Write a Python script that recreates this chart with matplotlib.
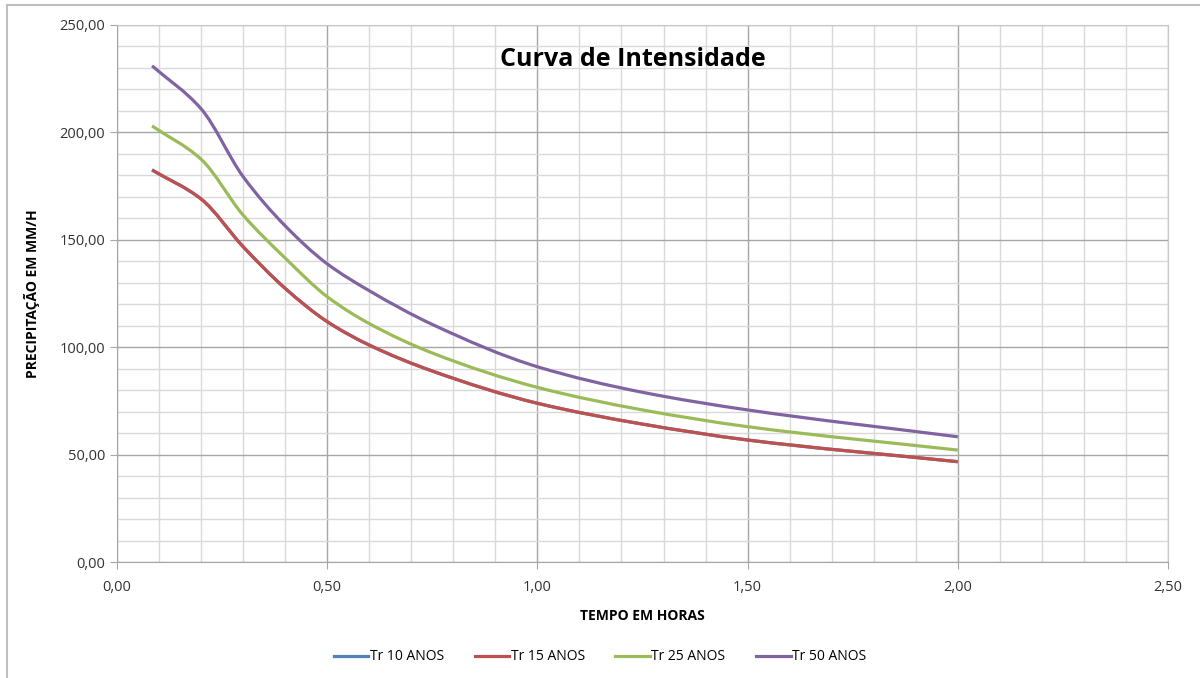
import numpy as np
import matplotlib.pyplot as plt
from matplotlib.ticker import MultipleLocator, FuncFormatter
from matplotlib.lines import Line2D
from matplotlib.path import Path
from matplotlib.patches import PathPatch

plt.rcParams['font.family'] = ['Open Sans', 'DejaVu Sans']

# tempo em horas
tempo = [5/60, 0.20, 0.30, 0.40, 0.50, 0.60, 0.75, 1.00, 1.25, 1.50, 2.00]

tr15 = [182.5, 169.0, 146.8, 127.4, 111.9, 101.0, 88.9, 73.9, 64.2, 56.8, 46.7]
tr25 = [203.0, 187.5, 161.5, 141.5, 123.5, 111.0, 97.3, 81.3, 70.8, 63.0, 52.1]
tr50 = [231.0, 211.0, 179.4, 156.5, 138.8, 126.3, 110.6, 90.9, 79.0, 70.8, 58.3]
# Tr 10 nao aparece no grafico (fica escondida sob a Tr 15)
tr10 = tr15

series = ["Tr 10 ANOS", "Tr 15 ANOS", "Tr 25 ANOS", "Tr 50 ANOS"]
cores = ["#4F81BD", "#C0504D", "#9BBB59", "#8064A2"]
valores = [tr10, tr15, tr25, tr50]


def linha_suave(x, y):
    # linha suavizada: hermite monotona desenhada como bezier
    x = np.asarray(x, float)
    y = np.asarray(y, float)
    h = np.diff(x)
    d = np.diff(y) / h
    m = np.zeros_like(y)
    m[0], m[-1] = d[0], d[-1]
    for i in range(1, len(x) - 1):
        w1 = 2 * h[i] + h[i - 1]
        w2 = h[i] + 2 * h[i - 1]
        m[i] = (w1 + w2) / (w1 / d[i - 1] + w2 / d[i])
    verts = [(x[0], y[0])]
    codes = [Path.MOVETO]
    for i in range(len(x) - 1):
        verts += [(x[i] + h[i] / 3, y[i] + m[i] * h[i] / 3),
                  (x[i + 1] - h[i] / 3, y[i + 1] - m[i + 1] * h[i] / 3),
                  (x[i + 1], y[i + 1])]
        codes += [Path.CURVE4] * 3
    return Path(verts, codes)


fig = plt.figure(figsize=(12, 6.78), dpi=100)
ax = fig.add_axes([117/1200, 1 - 562/678, (1168-117)/1200, (562-25)/678])

for nome, cor, vals in zip(series, cores, valores):
    ax.add_patch(PathPatch(linha_suave(tempo, vals), fill=False, edgecolor=cor, lw=2.3,
                           capstyle='butt'))

ax.set_xlim(0, 2.5)
ax.set_ylim(0, 250)
ax.xaxis.set_major_locator(MultipleLocator(0.5))
ax.xaxis.set_minor_locator(MultipleLocator(0.1))
ax.yaxis.set_major_locator(MultipleLocator(50))
ax.yaxis.set_minor_locator(MultipleLocator(10))
fmt = FuncFormatter(lambda v, p: f"{v:.2f}".replace(".", ","))
ax.xaxis.set_major_formatter(fmt)
ax.yaxis.set_major_formatter(fmt)

ax.grid(which='major', color='#a6a6a6', lw=1.0)
ax.grid(which='minor', color='#d9d9d9', lw=1.0)
ax.set_axisbelow(True)
for s in ax.spines.values():
    s.set_color('#c8c8c8')
ax.spines['left'].set_color('#a6a6a6')
ax.spines['bottom'].set_color('#a6a6a6')
ax.tick_params(which='major', length=5, color='#a6a6a6', labelsize=10.5, labelcolor='#333333')
ax.tick_params(which='minor', length=0)
ax.tick_params(axis='x', pad=8)

ax.set_xlabel("TEMPO EM HORAS", fontsize=10, fontweight='bold', labelpad=10)
ax.set_ylabel("PRECIPITAÇÃO EM MM/H", fontsize=10, fontweight='bold', labelpad=14)
ax.text(0.491, 0.935, "Curva de Intensidade", transform=ax.transAxes, ha='center', va='center',
        fontsize=18, fontweight='bold')

handles = [Line2D([], [], color=c, lw=2.3) for c in cores]
fig.legend(handles, series, loc='center', bbox_to_anchor=(0.5, 1 - 657/678), ncol=4,
           frameon=False, fontsize=10, handlelength=2.5, handletextpad=0.1, columnspacing=2.2)

# moldura do grafico
fig.add_artist(Line2D([7/1200, 7/1200], [0, 1 - 5/678], transform=fig.transFigure, color='#bfbfbf', lw=1.5))
fig.add_artist(Line2D([7/1200, 1], [1 - 5/678, 1 - 5/678], transform=fig.transFigure, color='#bfbfbf', lw=1.5))

fig.savefig("out.png", dpi=100)
